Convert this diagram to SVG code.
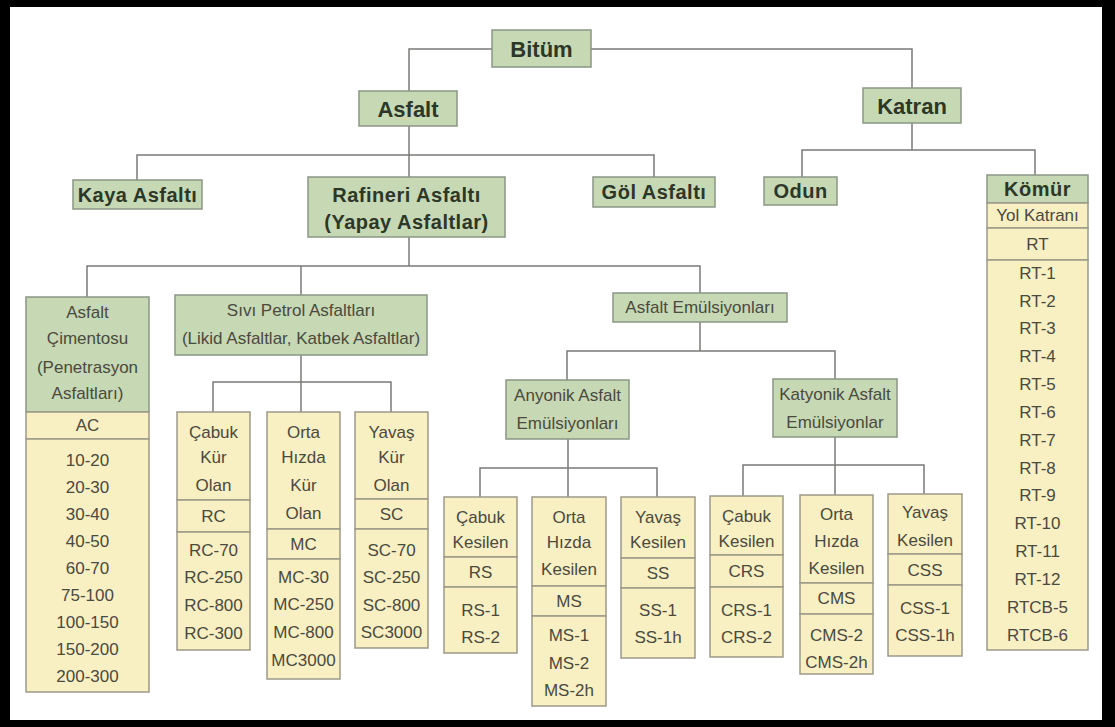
<svg xmlns="http://www.w3.org/2000/svg" width="1115" height="727" viewBox="0 0 1115 727">
<style>
.gr{fill:#c7d8b4;stroke:#8a9684;stroke-width:1.5}
.ye{fill:#f8efc3;stroke:#9c9a88;stroke-width:1.5}
.b{font-family:"Liberation Sans",Arial,sans-serif;font-weight:bold;fill:#2c3728;text-anchor:middle}
.t{font-family:"Liberation Sans",Arial,sans-serif;font-size:17px;fill:#4a4a3e;text-anchor:middle}
.ln{fill:none;stroke:#7a7a78;stroke-width:1.5}
</style>
<rect x="0" y="0" width="1115" height="727" fill="#000"/>
<rect x="10" y="7" width="1092" height="713" fill="#fff"/>
<g id="connectors" class="ln">
<path d="M492,49 H409 V91"/>
<path d="M591,49 H912 V88"/>
<path d="M409,126 V177"/>
<path d="M137,180 V155 H654 V177"/>
<path d="M912,123 V150"/>
<path d="M802,177 V150 H1035 V175"/>
<path d="M409,237 V266"/>
<path d="M87,297 V266 H700 V293"/>
<path d="M301,266 V295"/>
<path d="M301,355 V412"/>
<path d="M213,412 V382 H391 V412"/>
<path d="M700,322 V351"/>
<path d="M567,380 V351 H835 V379"/>
<path d="M568,439 V497"/>
<path d="M480,497 V468 H657 V497"/>
<path d="M835,437 V495"/>
<path d="M743,496 V465 H924 V494"/>
</g>
<g id="bitum"><rect class="gr" x="492" y="30" width="99" height="37"/><text class="b" x="541.5" y="56.5" font-size="22">Bitüm</text></g>
<g id="asfalt"><rect class="gr" x="359" y="91" width="98" height="35"/><text class="b" x="408" y="116.5" font-size="22">Asfalt</text></g>
<g id="katran"><rect class="gr" x="863" y="88" width="98" height="35"/><text class="b" x="912" y="113.5" font-size="22">Katran</text></g>
<g id="kaya"><rect class="gr" x="73" y="180" width="129" height="29"/><text class="b" x="137.5" y="201.5" font-size="20" letter-spacing="0.5">Kaya Asfaltı</text></g>
<g id="rafineri"><rect class="gr" x="308" y="177" width="197" height="60"/><text class="b" x="406.5" y="202" font-size="20" letter-spacing="0.5">Rafineri Asfaltı</text><text class="b" x="406.5" y="229" font-size="20" letter-spacing="0.5">(Yapay Asfaltlar)</text></g>
<g id="gol"><rect class="gr" x="593" y="177" width="122" height="30"/><text class="b" x="654" y="199" font-size="20" letter-spacing="0.5">Göl Asfaltı</text></g>
<g id="odun"><rect class="gr" x="764" y="177" width="73" height="28"/><text class="b" x="800.5" y="198" font-size="20" letter-spacing="0.5">Odun</text></g>
<g id="komur">
<rect class="gr" x="987" y="175" width="101" height="28"/><text class="b" x="1037.5" y="196" font-size="20" letter-spacing="0.5">Kömür</text>
<rect class="ye" x="987" y="203" width="101" height="25"/><text class="t" x="1037.5" y="221">Yol Katranı</text>
<rect class="ye" x="987" y="228" width="101" height="32"/><text class="t" x="1037.5" y="250">RT</text>
<rect class="ye" x="987" y="260" width="101" height="390"/>
<text class="t" x="1037.5" y="279">RT-1</text><text class="t" x="1037.5" y="307">RT-2</text><text class="t" x="1037.5" y="334">RT-3</text><text class="t" x="1037.5" y="362">RT-4</text><text class="t" x="1037.5" y="390">RT-5</text><text class="t" x="1037.5" y="418">RT-6</text><text class="t" x="1037.5" y="446">RT-7</text><text class="t" x="1037.5" y="474">RT-8</text><text class="t" x="1037.5" y="501">RT-9</text><text class="t" x="1037.5" y="529">RT-10</text><text class="t" x="1037.5" y="557">RT-11</text><text class="t" x="1037.5" y="585">RT-12</text><text class="t" x="1037.5" y="613">RTCB-5</text><text class="t" x="1037.5" y="641">RTCB-6</text>
</g>
<g id="asfalt-cimentosu">
<rect class="gr" x="26" y="297" width="123" height="115"/>
<text class="t" x="87.5" y="318">Asfalt</text><text class="t" x="87.5" y="344">Çimentosu</text><text class="t" x="87.5" y="373">(Penetrasyon</text><text class="t" x="87.5" y="399">Asfaltları)</text>
<rect class="ye" x="26" y="412" width="123" height="27"/><text class="t" x="87.5" y="431">AC</text>
<rect class="ye" x="26" y="439" width="123" height="253"/>
<text class="t" x="87.5" y="466">10-20</text><text class="t" x="87.5" y="493">20-30</text><text class="t" x="87.5" y="520">30-40</text><text class="t" x="87.5" y="547">40-50</text><text class="t" x="87.5" y="574">60-70</text><text class="t" x="87.5" y="601">75-100</text><text class="t" x="87.5" y="628">100-150</text><text class="t" x="87.5" y="655">150-200</text><text class="t" x="87.5" y="682">200-300</text>
</g>
<g id="sivi-petrol">
<rect class="gr" x="175" y="295" width="252" height="60"/>
<text class="t" x="301" y="316">Sıvı Petrol Asfaltları</text><text class="t" x="301" y="344">(Likid Asfaltlar, Katbek Asfaltlar)</text>
</g>
<g id="rc">
<rect class="ye" x="177" y="412" width="73" height="88"/>
<text class="t" x="213.5" y="438">Çabuk</text><text class="t" x="213.5" y="463">Kür</text><text class="t" x="213.5" y="491">Olan</text>
<rect class="ye" x="177" y="500" width="73" height="32"/><text class="t" x="213.5" y="522">RC</text>
<rect class="ye" x="177" y="532" width="73" height="118"/>
<text class="t" x="213.5" y="556">RC-70</text><text class="t" x="213.5" y="583">RC-250</text><text class="t" x="213.5" y="611">RC-800</text><text class="t" x="213.5" y="639">RC-300</text>
</g>
<g id="mc">
<rect class="ye" x="267" y="412" width="73" height="117"/>
<text class="t" x="303.5" y="438">Orta</text><text class="t" x="303.5" y="463">Hızda</text><text class="t" x="303.5" y="491">Kür</text><text class="t" x="303.5" y="519">Olan</text>
<rect class="ye" x="267" y="529" width="73" height="30"/><text class="t" x="303.5" y="550">MC</text>
<rect class="ye" x="267" y="559" width="73" height="120"/>
<text class="t" x="303.5" y="583">MC-30</text><text class="t" x="303.5" y="610">MC-250</text><text class="t" x="303.5" y="638">MC-800</text><text class="t" x="303.5" y="666">MC3000</text>
</g>
<g id="sc">
<rect class="ye" x="355" y="412" width="73" height="87"/>
<text class="t" x="391.5" y="438">Yavaş</text><text class="t" x="391.5" y="463">Kür</text><text class="t" x="391.5" y="491">Olan</text>
<rect class="ye" x="355" y="499" width="73" height="30"/><text class="t" x="391.5" y="520">SC</text>
<rect class="ye" x="355" y="529" width="73" height="119"/>
<text class="t" x="391.5" y="556">SC-70</text><text class="t" x="391.5" y="583">SC-250</text><text class="t" x="391.5" y="611">SC-800</text><text class="t" x="391.5" y="638">SC3000</text>
</g>
<g id="asfalt-emulsiyonlari"><rect class="gr" x="613" y="293" width="174" height="29"/><text class="t" x="700" y="313">Asfalt Emülsiyonları</text></g>
<g id="anyonik"><rect class="gr" x="506" y="380" width="123" height="59"/><text class="t" x="567.5" y="401">Anyonik Asfalt</text><text class="t" x="567.5" y="429">Emülsiyonları</text></g>
<g id="katyonik"><rect class="gr" x="773" y="379" width="124" height="58"/><text class="t" x="835" y="400">Katyonik Asfalt</text><text class="t" x="835" y="428">Emülsiyonlar</text></g>
<g id="rs">
<rect class="ye" x="444" y="497" width="73" height="60"/><text class="t" x="480.5" y="523">Çabuk</text><text class="t" x="480.5" y="548">Kesilen</text>
<rect class="ye" x="444" y="557" width="73" height="30"/><text class="t" x="480.5" y="578">RS</text>
<rect class="ye" x="444" y="587" width="73" height="66"/><text class="t" x="480.5" y="616">RS-1</text><text class="t" x="480.5" y="643">RS-2</text>
</g>
<g id="ms">
<rect class="ye" x="532" y="497" width="74" height="89"/><text class="t" x="569" y="523">Orta</text><text class="t" x="569" y="548">Hızda</text><text class="t" x="569" y="575">Kesilen</text>
<rect class="ye" x="532" y="586" width="74" height="30"/><text class="t" x="569" y="607">MS</text>
<rect class="ye" x="532" y="616" width="74" height="90"/><text class="t" x="569" y="641">MS-1</text><text class="t" x="569" y="669">MS-2</text><text class="t" x="569" y="696">MS-2h</text>
</g>
<g id="ss">
<rect class="ye" x="621" y="497" width="74" height="61"/><text class="t" x="658" y="523">Yavaş</text><text class="t" x="658" y="548">Kesilen</text>
<rect class="ye" x="621" y="558" width="74" height="30"/><text class="t" x="658" y="579">SS</text>
<rect class="ye" x="621" y="588" width="74" height="70"/><text class="t" x="658" y="616">SS-1</text><text class="t" x="658" y="643">SS-1h</text>
</g>
<g id="crs">
<rect class="ye" x="710" y="496" width="73" height="59"/><text class="t" x="746.5" y="522">Çabuk</text><text class="t" x="746.5" y="547">Kesilen</text>
<rect class="ye" x="710" y="555" width="73" height="32"/><text class="t" x="746.5" y="577">CRS</text>
<rect class="ye" x="710" y="587" width="73" height="70"/><text class="t" x="746.5" y="616">CRS-1</text><text class="t" x="746.5" y="643">CRS-2</text>
</g>
<g id="cms">
<rect class="ye" x="800" y="495" width="73" height="88"/><text class="t" x="836.5" y="520">Orta</text><text class="t" x="836.5" y="547">Hızda</text><text class="t" x="836.5" y="574">Kesilen</text>
<rect class="ye" x="800" y="583" width="73" height="31"/><text class="t" x="836.5" y="604">CMS</text>
<rect class="ye" x="800" y="614" width="73" height="60"/><text class="t" x="836.5" y="641">CMS-2</text><text class="t" x="836.5" y="668">CMS-2h</text>
</g>
<g id="css">
<rect class="ye" x="888" y="494" width="74" height="60"/><text class="t" x="925" y="518">Yavaş</text><text class="t" x="925" y="546">Kesilen</text>
<rect class="ye" x="888" y="554" width="74" height="31"/><text class="t" x="925" y="576">CSS</text>
<rect class="ye" x="888" y="585" width="74" height="71"/><text class="t" x="925" y="614">CSS-1</text><text class="t" x="925" y="641">CSS-1h</text>
</g>
</svg>
